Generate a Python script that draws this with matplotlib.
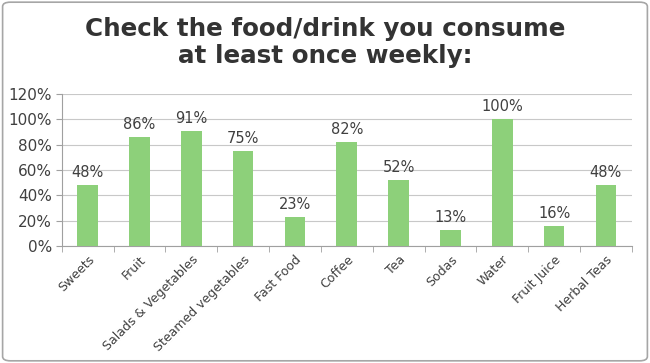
import matplotlib
matplotlib.use("Agg")
import matplotlib.pyplot as plt
from matplotlib.patches import FancyBboxPatch
from matplotlib.ticker import FixedLocator

categories = ["Sweets", "Fruit", "Salads & Vegetables", "Steamed vegetables",
              "Fast Food", "Coffee", "Tea", "Sodas", "Water", "Fruit Juice",
              "Herbal Teas"]
values = [48, 86, 91, 75, 23, 82, 52, 13, 100, 16, 48]
yticks = [0, 20, 40, 60, 80, 100, 120]

plt.rcParams['font.family'] = ['DejaVu Sans']

fig = plt.figure(figsize=(6.5, 3.63), dpi=100)
border = FancyBboxPatch((0.004, 0.006), 0.992, 0.988, boxstyle="round,pad=0,rounding_size=0.012",
                        transform=fig.transFigure, facecolor='white', edgecolor='#a6a6a6',
                        linewidth=1.2, zorder=-1)
fig.patches.append(border)

ax = fig.add_axes([0.095, 0.322, 0.877, 0.419])
x = list(range(len(categories)))
bars = ax.bar(x, values, width=0.4, color='#8dd07a', zorder=3)

for xi, v in zip(x, values):
    ax.text(xi, v + 4, f"{v}%", ha='center', va='bottom', fontsize=10.5, color='#404040')

ax.set_xlim(-0.5, len(categories) - 0.5)
ax.set_ylim(0, 120)
ax.set_yticks(yticks)
ax.set_yticklabels([f"{t}%" for t in yticks], fontsize=11, color='#404040')
ax.yaxis.grid(True, color='#c8c8c8', linewidth=0.8, zorder=0)

ax.set_xticks(x)
ax.set_xticklabels(categories, rotation=45, ha='right', rotation_mode='anchor',
                   fontsize=9, color='#404040')
ax.tick_params(axis='x', length=0, pad=5)
ax.xaxis.set_minor_locator(FixedLocator([i - 0.5 for i in range(len(categories) + 1)]))
ax.tick_params(axis='x', which='minor', length=4, color='#a0a0a0', direction='out')
ax.tick_params(axis='y', length=4, color='#a0a0a0', direction='out', pad=3)

for s in ['top', 'right']:
    ax.spines[s].set_visible(False)
ax.spines['left'].set_color('#a0a0a0')
ax.spines['bottom'].set_color('#a0a0a0')

fig.text(0.5, 0.884, "Check the food/drink you consume\nat least once weekly:",
         ha='center', va='center', fontsize=17.7, fontweight='bold', color='#333333',
         linespacing=1.15)

fig.savefig("out.png", dpi=100)
